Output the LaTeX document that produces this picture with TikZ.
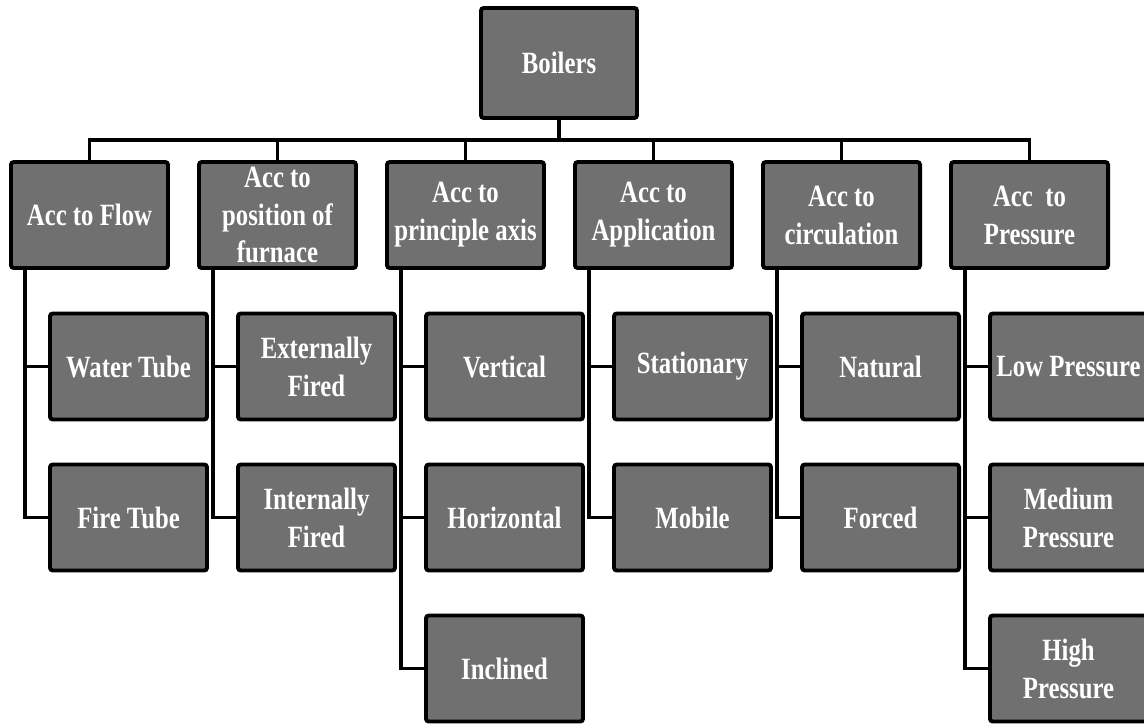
\documentclass[tikz,border=0pt]{standalone}
\usepackage{fontspec}
\setmainfont{Liberation Serif}[FakeStretch=0.8]
\definecolor{boxgray}{RGB}{112,112,112}
\begin{document}
\begin{tikzpicture}[
                x=0.025cm, y=-0.025cm,
                box/.style={
                    draw=black,
                    fill=boxgray,
                    line width=2.8pt,
                    rectangle,
                    rounded corners=2pt,
                    minimum width=3.925cm,
                    minimum height=2.65cm,
                    inner sep=0pt,
                    align=center,
                    text=white,
                    font=\fontsize{22}{27}\selectfont\bfseries
                },
                rootbox/.style={
                    box,
                    minimum width=3.9cm,
                    minimum height=2.75cm
                },
                link/.style={
                    line width=2.8pt,
                    draw=black
                }
            ]
                \useasboundingbox (0,0) rectangle (1144,725);

                % root
                \node[rootbox] (boilers) at (559,63) {Boilers};

                % classification
                \node[box] (flow)        at (89.5,215)   {Acc to Flow};
                \node[box] (furnace)     at (277.5,215)  {Acc to\\position of\\furnace};
                \node[box] (axis)        at (465.5,215)  {Acc to\\principle axis};
                \node[box] (application) at (653.5,215)  {Acc to\\Application};
                \node[box] (circulation) at (841.5,215)  {Acc to\\circulation};
                \node[box] (pressure)    at (1029.5,215) {Acc~ to\\Pressure};

                % types
                \node[box] (water)      at (128.5,366.5)  {Water Tube};
                \node[box] (fire)       at (128.5,517.5)  {Fire Tube};
                \node[box] (externally) at (316.5,366.5)  {Externally\\Fired};
                \node[box] (internally) at (316.5,517.5)  {Internally\\Fired};
                \node[box] (vertical)   at (504.5,366.5)  {Vertical};
                \node[box] (horizontal) at (504.5,517.5)  {Horizontal};
                \node[box] (inclined)   at (504.5,668.5)  {Inclined};
                \node[box] (stationary) at (692.5,366.5)  {Stationary};
                \node[box] (mobile)     at (692.5,517.5)  {Mobile};
                \node[box] (natural)    at (880.5,366.5)  {Natural};
                \node[box] (forced)     at (880.5,517.5)  {Forced};
                \node[box] (low)        at (1068.5,366.5) {Low Pressure};
                \node[box] (medium)     at (1068.5,517.5) {Medium\\Pressure};
                \node[box] (high)       at (1068.5,668.5) {High\\Pressure};

                \draw[link] (boilers.south) -- ++(0,20) -| (flow.north);
                \draw[link] (boilers.south) -- ++(0,20) -| (furnace.north);
                \draw[link] (boilers.south) -- ++(0,20) -| (axis.north);
                \draw[link] (boilers.south) -- ++(0,20) -| (application.north);
                \draw[link] (boilers.south) -- ++(0,20) -| (circulation.north);
                \draw[link] (boilers.south) -- ++(0,20) -| (pressure.north);

                \draw[link] ([xshift=0.4cm]flow.south west) |- (water.west);
                \draw[link] ([xshift=0.4cm]flow.south west) |- (fire.west);
                \draw[link] ([xshift=0.4cm]furnace.south west) |- (externally.west);
                \draw[link] ([xshift=0.4cm]furnace.south west) |- (internally.west);
                \draw[link] ([xshift=0.4cm]axis.south west) |- (vertical.west);
                \draw[link] ([xshift=0.4cm]axis.south west) |- (horizontal.west);
                \draw[link] ([xshift=0.4cm]axis.south west) |- (inclined.west);
                \draw[link] ([xshift=0.4cm]application.south west) |- (stationary.west);
                \draw[link] ([xshift=0.4cm]application.south west) |- (mobile.west);
                \draw[link] ([xshift=0.4cm]circulation.south west) |- (natural.west);
                \draw[link] ([xshift=0.4cm]circulation.south west) |- (forced.west);
                \draw[link] ([xshift=0.4cm]pressure.south west) |- (low.west);
                \draw[link] ([xshift=0.4cm]pressure.south west) |- (medium.west);
                \draw[link] ([xshift=0.4cm]pressure.south west) |- (high.west);
        \end{tikzpicture}
\end{document}
